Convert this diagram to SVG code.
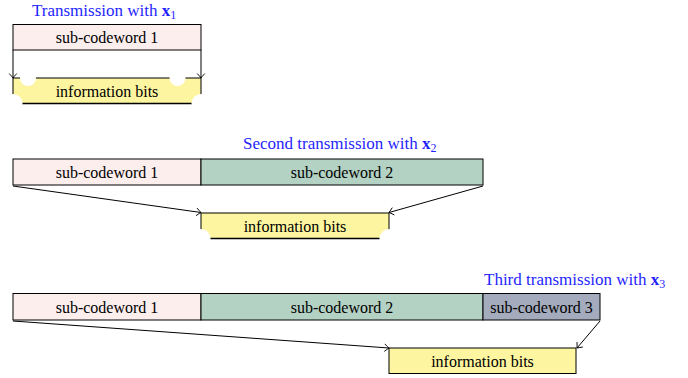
<svg xmlns="http://www.w3.org/2000/svg" width="688" height="378" viewBox="0 0 688 378">
<defs>
<marker id="arr" viewBox="-6 -5 8 10" markerWidth="8" markerHeight="10" refX="0" refY="0" orient="auto" markerUnits="userSpaceOnUse">
<path d="M-4.5,-3.8 Q-1.2,-0.8 0,0 Q-1.2,0.8 -4.5,3.8" fill="none" stroke="#000" stroke-width="0.9"/>
</marker>
</defs>
<style>
.box{stroke:#000;stroke-width:1}
.c1{fill:#fdeeee}
.c2{fill:#b3d2c3}
.c3{fill:#a3abbd}
.info{fill:#fdf59f;stroke:#000;stroke-width:1}
.cut{fill:#fff;stroke:none}
.bl{stroke:#000;stroke-width:1.3}
.t{font-size:16px;fill:#000;text-anchor:middle}
.ti{font-size:17px;fill:#1f1fff}
.b{font-weight:bold}
.sub{font-size:12px}
.ln{stroke:#000;stroke-width:1;fill:none;marker-end:url(#arr)}
</style>
<rect width="688" height="378" fill="#fff"/>
<g font-family="'Liberation Serif', Tinos, 'DejaVu Serif', 'Times New Roman', serif">
<g id="title1"><text class="ti" x="32" y="16">Transmission with <tspan class="b">x</tspan><tspan class="sub" dy="3">1</tspan></text></g>
<g id="r1-scw1"><rect class="box c1" x="13" y="24.5" width="188" height="25.5"/><text class="t" x="107" y="43">sub-codeword 1</text></g>
<g id="r1-info">
<rect class="info" x="13" y="78" width="188" height="25.5"/>
<line class="bl" x1="22" y1="103.5" x2="192" y2="103.5"/>
<circle class="cut" cx="28" cy="78" r="8"/>
<circle class="cut" cx="177.5" cy="78" r="8"/>
<circle class="cut" cx="13" cy="103.5" r="9.5"/>
<circle class="cut" cx="201" cy="103.5" r="9.5"/>
<text class="t" x="107" y="97">information bits</text>
</g>

<g id="title2"><text class="ti" x="243" y="149">Second transmission with <tspan class="b">x</tspan><tspan class="sub" dy="3">2</tspan></text></g>
<g id="r2-scw1"><rect class="box c1" x="13" y="159" width="188" height="26"/><text class="t" x="107" y="178">sub-codeword 1</text></g>
<g id="r2-scw2"><rect class="box c2" x="201" y="159" width="282" height="26"/><text class="t" x="342" y="178">sub-codeword 2</text></g>
<g id="r2-info">
<rect class="info" x="201" y="213" width="188" height="25.5"/>
<line class="bl" x1="210.5" y1="238.5" x2="379.5" y2="238.5"/>
<circle class="cut" cx="201" cy="238.5" r="9.5"/>
<circle class="cut" cx="389" cy="238.5" r="9.5"/>
<text class="t" x="295" y="232">information bits</text>
</g>

<g id="title3"><text class="ti" x="484" y="285">Third transmission with <tspan class="b">x</tspan><tspan class="sub" dy="3">3</tspan></text></g>
<g id="r3-scw1"><rect class="box c1" x="13" y="293.5" width="188" height="26.5"/><text class="t" x="107" y="312.5">sub-codeword 1</text></g>
<g id="r3-scw2"><rect class="box c2" x="201" y="293.5" width="282" height="26.5"/><text class="t" x="342" y="312.5">sub-codeword 2</text></g>
<g id="r3-scw3"><rect class="box c3" x="483" y="293.5" width="117" height="26.5"/><text class="t" x="541.5" y="312.5">sub-codeword 3</text></g>
<g id="r3-info">
<rect class="info" x="389" y="348" width="187" height="25.5"/>
<text class="t" x="482.5" y="367">information bits</text>
</g>
</g>
<g id="connectors">
<line class="ln" x1="13" y1="50" x2="13" y2="78"/>
<line class="ln" x1="201" y1="50" x2="201" y2="78"/>
<line class="ln" x1="13" y1="186" x2="201" y2="212.5"/>
<line class="ln" x1="483" y1="186" x2="389" y2="212.5"/>
<line class="ln" x1="13" y1="321" x2="389" y2="348"/>
<line class="ln" x1="600" y1="321" x2="577" y2="348"/>
</g>
</svg>
